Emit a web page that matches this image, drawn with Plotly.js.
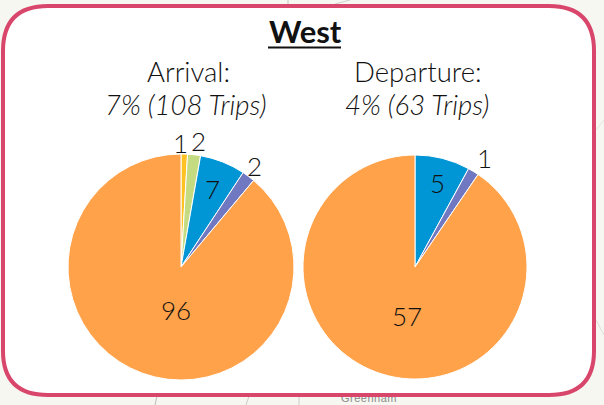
<!DOCTYPE html>
<html><head><meta charset="utf-8">
<script src="https://cdn.plot.ly/plotly-3.0.1.min.js"></script>
<style>
html,body{margin:0;padding:0;width:604px;height:405px;overflow:hidden;background:#f5f7f0}
#place{position:absolute;left:341px;top:392px;font:11px "Liberation Sans",sans-serif;letter-spacing:.5px;color:#8a8a8a}
#chart{position:absolute;left:0;top:0;width:604px;height:405px}
</style></head><body>
<div id="place">Greenham</div>
<div id="chart"></div>
<script>
const W = 604, H = 405;
const arrivalValues = [1, 2, 7, 2, 96];
const arrivalColors = ['#FFC222', '#C5DB81', '#0096D6', '#6F78C0', '#FFA24A'];
const arrivalLabelX = [180, 198, 212, 254, 176];
const arrivalLabelY = [143, 141, 189, 166, 310];
const departureValues = [5, 1, 57];
const departureColors = ['#0096D6', '#6F78C0', '#FFA24A'];
const departureLabelX = [437, 484, 407];
const departureLabelY = [183, 158, 316];
const FONT = '"Lato Light", Lato, "Open Sans", sans-serif';
const BOLD = 'Lato, "Open Sans", sans-serif';
const TEXT = '#111111';

function dom(cx, cy, r) {
  return {x: [(cx - r) / W, (cx + r) / W], y: [1 - (cy + r) / H, 1 - (cy - r) / H]};
}
function pie(values, colors, domain) {
  return {
    type: 'pie', values, sort: false, direction: 'clockwise', rotation: 0,
    textinfo: 'none', automargin: false,
    marker: {colors, line: {color: '#ffffff', width: 1}},
    domain, hoverinfo: 'skip', showlegend: false
  };
}
function label(text, x, y, size, extra) {
  return Object.assign({
    text, x: x / W, y: 1 - y / H, xref: 'paper', yref: 'paper',
    showarrow: false, xanchor: 'center', yanchor: 'middle',
    font: {family: FONT, size, color: TEXT}
  }, extra || {});
}
const px = (x) => x / W, py = (y) => 1 - y / H;
const panel = `M ${px(48)} ${py(6)} L ${px(549)} ${py(6)} Q ${px(594)} ${py(6)} ${px(594)} ${py(51)} ` +
  `L ${px(594)} ${py(351)} Q ${px(594)} ${py(395)} ${px(549)} ${py(395)} L ${px(48)} ${py(395)} ` +
  `Q ${px(3)} ${py(395)} ${px(3)} ${py(351)} L ${px(3)} ${py(51)} Q ${px(3)} ${py(6)} ${px(48)} ${py(6)} Z`;
function mapLine(x0, y0, x1, y1, color) {
  return {type: 'line', xref: 'paper', yref: 'paper', x0: px(x0), y0: py(y0), x1: px(x1), y1: py(y1),
          line: {color, width: 1}, layer: 'below'};
}
const valueLabels = (vals, xs, ys) => vals.map((v, i) => label(String(v), xs[i], ys[i], 26));

Plotly.newPlot('chart', [
  pie(arrivalValues, arrivalColors, dom(181, 267, 113)),
  pie(departureValues, departureColors, dom(415, 267, 112))
], {
  width: W, height: H, margin: {l: 0, r: 0, t: 0, b: 0},
  paper_bgcolor: 'rgba(0,0,0,0)', plot_bgcolor: 'rgba(0,0,0,0)',
  shapes: [
    mapLine(288, 0, 288, 6, '#c4c4c4'),
    mapLine(335, 4, 350, 0, '#d0d0d0'),
    mapLine(155, 405, 157, 396, '#bdbdbd'),
    mapLine(246, 405, 249, 396, '#cccccc'),
    mapLine(299, 405, 299, 396, '#cccccc'),
    mapLine(596, 130, 604, 120, '#e4e4e4'),
    mapLine(596, 320, 604, 335, '#dcdcdc'),
    {type: 'path', xref: 'paper', yref: 'paper', path: panel, fillcolor: '#ffffff',
     line: {color: '#D9466B', width: 4}, layer: 'below'},
    {type: 'line', xref: 'paper', yref: 'paper', x0: px(268), x1: px(341), y0: py(47.5), y1: py(47.5),
     line: {color: '#111111', width: 2}}
  ],
  annotations: [
    label('<b>West</b>', 305, 31, 31, {font: {family: BOLD, size: 31, color: '#111111'}}),
    label('Arrival:', 188.5, 71, 27.5),
    label('<i>7% (108 Trips)</i>', 186, 104, 27.5),
    label('Departure:', 418, 71, 27.5),
    label('<i>4% (63 Trips)</i>', 417, 104, 27.5),
    ...valueLabels(arrivalValues, arrivalLabelX, arrivalLabelY),
    ...valueLabels(departureValues, departureLabelX, departureLabelY)
  ]
}, {staticPlot: true, displayModeBar: false});
</script></body></html>
